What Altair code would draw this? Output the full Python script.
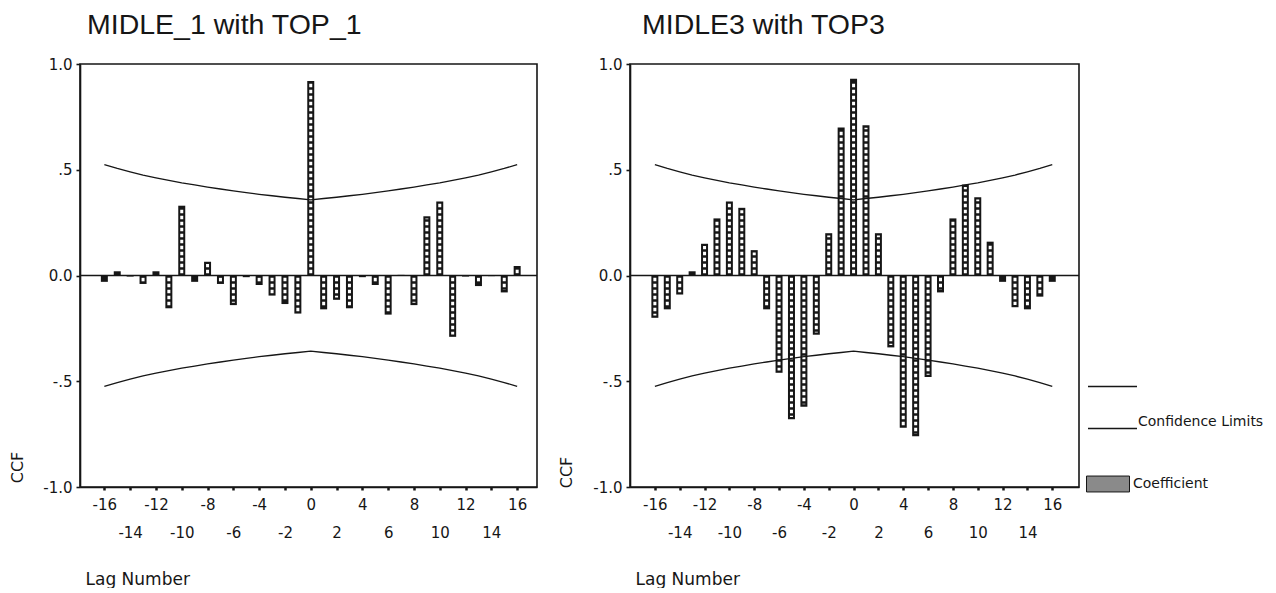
import altair as alt
import pandas as pd

FONT = "Liberation Sans"
TICKFONT = "DejaVu Sans"
INK = "#161616"

lags = list(range(-16, 17))

left_ccf = [-0.03, 0.02, -0.005, -0.04, 0.02, -0.155, 0.33, -0.03, 0.065, -0.04, -0.14,
            -0.008, -0.045, -0.095, -0.135, -0.18, 0.92, -0.16, -0.115, -0.155, -0.008,
            -0.045, -0.185, 0.003, -0.14, 0.28, 0.35, -0.29, -0.005, -0.05, -0.003, -0.08, 0.045]

right_ccf = [-0.20, -0.16, -0.09, 0.02, 0.15, 0.27, 0.35, 0.32, 0.12, -0.16, -0.46,
             -0.68, -0.62, -0.28, 0.20, 0.70, 0.93, 0.71, 0.20, -0.34, -0.72,
             -0.76, -0.48, -0.08, 0.27, 0.43, 0.37, 0.16, -0.03, -0.15, -0.16, -0.10, -0.03]

upper_limit = [0.524, 0.506, 0.490, 0.475, 0.462, 0.450, 0.438, 0.428, 0.418, 0.409, 0.400,
               0.392, 0.384, 0.377, 0.370, 0.364, 0.358, 0.364, 0.370, 0.377, 0.384,
               0.392, 0.400, 0.409, 0.418, 0.428, 0.438, 0.450, 0.462, 0.475, 0.490, 0.506, 0.524]
lower_limit = [-0.524, -0.506, -0.490, -0.475, -0.462, -0.450, -0.438, -0.428, -0.418, -0.409, -0.400,
               -0.392, -0.384, -0.377, -0.370, -0.364, -0.358, -0.364, -0.370, -0.377, -0.384,
               -0.392, -0.400, -0.409, -0.418, -0.428, -0.438, -0.450, -0.462, -0.475, -0.490, -0.506, -0.524]

x_ticks = [-16, -14, -12, -10, -8, -6, -4, -2, 0, 2, 4, 6, 8, 10, 12, 14, 16]
y_ticks = [1.0, 0.5, 0.0, -0.5, -1.0]
y_tick_labels = ["1.0", ".5", "0.0", "-.5", "-1.0"]
panel_titles = ["MIDLE_1 with TOP_1", "MIDLE3 with TOP3"]
legend_labels = ["Confidence Limits", "Coefficient"]

y_label_expr = " : ".join(f"datum.value == {v} ? '{l}'" for v, l in zip(y_ticks, y_tick_labels)) + " : ''"
x_label_expr = "abs(datum.value) % 4 == 0 ? '' + datum.value : ['', '' + datum.value]"


def panel(ccf, title, width, height, xdom, bar_w, ccf_tx, ccf_ty, title_dx, with_legend):
    bars_df = pd.DataFrame({"lag": lags, "ccf": ccf, "series": legend_labels[1]})
    lim_df = pd.DataFrame({
        "lag": lags + lags,
        "ccf": upper_limit + lower_limit,
        "limit": ["Upper"] * len(lags) + ["Lower"] * len(lags),
    })
    xscale = alt.Scale(domain=xdom, nice=False, zero=False)
    yscale = alt.Scale(domain=[-1, 1], nice=False, zero=False)

    x_axis = alt.Axis(values=x_ticks, labelExpr=x_label_expr, labelOverlap=False, labelFlush=False,
                      labelBaseline="top", labelLineHeight=28, labelPadding=7, labelFontSize=15,
                      labelFont=TICKFONT, labelColor=INK, tickSize=3, tickWidth=2.5, tickColor=INK,
                      domainColor=INK, domainWidth=1.6, grid=False,
                      title="Lag Number", titleFont=TICKFONT, titleFontSize=17, titleFontWeight="normal",
                      titleColor=INK, titleAnchor="start", titleAlign="left", titleX=5, titleY=92,
                      titleBaseline="middle")
    y_axis = alt.Axis(values=y_ticks, labelExpr=y_label_expr, labelFontSize=15, labelFont=TICKFONT,
                      labelColor=INK, labelPadding=4, tickSize=4, tickWidth=1.6, tickColor=INK,
                      domainColor=INK, domainWidth=1.6, grid=False,
                      title="CCF", titleFont=TICKFONT, titleFontSize=16, titleFontWeight="normal",
                      titleColor=INK, titleAngle=270, titleX=ccf_tx, titleY=ccf_ty,
                      titleAlign="center", titleBaseline="middle")

    def X(field="lag:Q"):
        return alt.X(field, scale=xscale, axis=x_axis)

    def Y(field="ccf:Q"):
        return alt.Y(field, scale=yscale, axis=y_axis)

    base_bar = alt.Chart(bars_df)
    bars = base_bar.mark_bar(size=bar_w, color=INK).encode(x=X(), y=Y(), y2=alt.datum(0))

    holes = base_bar.transform_filter("abs(datum.ccf) > 0.03").transform_calculate(
        inner="datum.ccf > 0 ? datum.ccf - 0.011 : datum.ccf + 0.011",
        inner0="datum.ccf > 0 ? 0.011 : -0.011",
    ).mark_rule(color="white", strokeWidth=bar_w - 4, strokeDash=[3.5, 2.5]).encode(
        x=X(), y=Y("inner0:Q"), y2="inner:Q",
    )

    zero = alt.Chart(pd.DataFrame({"ccf": [0.0]})).mark_rule(color=INK, strokeWidth=1.6).encode(y=Y())

    layers = [bars, holes, zero]

    if with_legend:
        stroke = alt.Stroke("limit:N", scale=alt.Scale(domain=["Upper", "Lower"], range=[INK, INK]),
                            legend=alt.Legend(title=None, orient="none", legendX=1007, legendY=297,
                                              symbolType="stroke", symbolSize=2401, symbolStrokeWidth=1.3,
                                              rowPadding=13, padding=0, labelOffset=0,
                                              labelBaseline="bottom",
                                              labelExpr=f"datum.value == 'Upper' ? '' : '{legend_labels[0]}'",
                                              labelFont=TICKFONT, labelFontSize=14, labelColor=INK))
        lines = alt.Chart(lim_df).mark_line(strokeWidth=1.3).encode(x=X(), y=Y(), stroke=stroke)
        key = base_bar.transform_filter("false").mark_square(stroke=INK, strokeWidth=1, opacity=1).encode(
            x=X(), y=Y(),
            fill=alt.Fill("series:N", scale=alt.Scale(domain=[legend_labels[1]], range=["#8a8a8a"]),
                          legend=alt.Legend(title=None, orient="none", legendX=1006, legendY=398,
                                            symbolType="M-1,-0.37H1V0.37H-1Z", symbolSize=1849,
                                            symbolStrokeColor=INK, symbolStrokeWidth=1, symbolOpacity=1,
                                            labelFont=TICKFONT, labelFontSize=14, labelColor=INK,
                                            labelOffset=3, padding=0)),
        )
        layers += [lines, key]
    else:
        lines = alt.Chart(lim_df).mark_line(strokeWidth=1.3, color=INK).encode(
            x=X(), y=Y(), detail="limit:N",
        )
        layers += [lines]

    return alt.layer(*layers).properties(
        width=width, height=height,
        title=alt.TitleParams(title, anchor="start", frame="group", fontSize=28.5, font=FONT,
                              fontWeight="normal", color=INK, dx=title_dx, offset=-5, baseline="alphabetic"),
    )


left = panel(left_ccf, panel_titles[0], 457, 423, [-17.5, 17.15], 7, -63, 403, 7, False)
right = panel(right_ccf, panel_titles[1], 449, 423, [-17.6, 17.75], 7, -64, 408, 12, True)

chart = alt.hconcat(left, right, spacing=18).properties(
    padding={"left": 8, "top": 9, "right": 0, "bottom": 0},
    background="white",
).configure_view(stroke=INK, strokeWidth=1.6)

chart.save("out.html", embed_options={"renderer": "svg", "actions": False})
